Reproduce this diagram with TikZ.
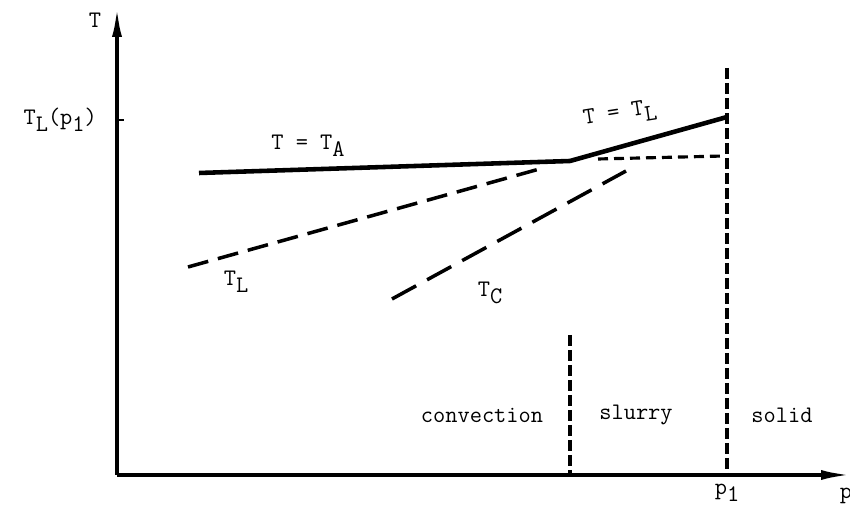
\documentclass[tikz,border=0pt]{standalone}
\usepackage{fontspec}
\usetikzlibrary{arrows.meta}

\newcommand{\lowsub}[1]{\raisebox{-0.7ex}{#1}}

\tikzset{
  axis/.style={line width=2pt, -{Latex[length=0.6cm, width=0.2cm]}},
  curve/.style={line width=2.6pt},
  dashcurve/.style={line width=2pt, dash pattern=on 0.42cm off 0.2cm},
  longdash/.style={line width=2pt, dash pattern=on 0.55cm off 0.25cm},
  shortdash/.style={line width=1.8pt, dash pattern=on 0.2cm off 0.12cm},
  border/.style={line width=2pt, dash pattern=on 0.22cm off 0.08cm},
  lab/.style={font=\ttfamily\fontsize{13.5}{15}\selectfont, inner sep=1pt}
}

\begin{document}
\begin{tikzpicture}
    \useasboundingbox (0,0) rectangle (17,10.2);

    % axes
    \coordinate (O) at (2.34,0.7);
    \coordinate (ytop) at (2.34,10.06);
    \coordinate (xend) at (17.02,0.7);
    \draw[axis] (O) -- (ytop);
    \draw[axis] (O) -- (xend);
    \node[lab] (tlab) at (1.9,9.8) {T};
    \node[lab] (plab) at (16.92,0.28) {p};

    % tick at T_L(p_1)
    \coordinate (tick) at (2.34,7.8);
    \draw[line width=1.4pt] (tick) -- ++(0.13,0);
    \node[lab, anchor=east] (tlp) at (1.98,7.8) {T\lowsub{L}(p\lowsub{1})};

    % key points
    \coordinate (a0) at (3.98,6.74);
    \coordinate (kink) at (11.4,6.98);
    \coordinate (top) at (14.54,7.86);

    % T = T_A and T = T_L
    \draw[curve, line join=round] (a0) -- (kink) -- (top);
    \node[lab] (tanote) at (6.16,7.28) {T = T\lowsub{A}};
    \node[lab, rotate=9] (tlnote) at (12.4,7.9) {T = T\lowsub{L}};

    % dashed horizontal to p_1
    \coordinate (h0) at (11.96,7.02);
    \coordinate (h1) at (14.48,7.08);
    \draw[shortdash] (h0) -- (h1);

    % T_L and T_C
    \coordinate (l0) at (3.76,4.86);
    \coordinate (l1) at (10.86,6.84);
    \draw[dashcurve] (l0) -- (l1);
    \node[lab] (tl) at (4.72,4.56) {T\lowsub{L}};
    \coordinate (c0) at (7.84,4.22);
    \coordinate (c1) at (12.52,6.78);
    \draw[longdash] (c0) -- (c1);
    \node[lab] (tc) at (9.8,4.34) {T\lowsub{C}};

    % region borders
    \coordinate (b1) at (11.4,3.5);
    \coordinate (b1x) at (11.4,0.7);
    \coordinate (b2) at (14.54,8.84);
    \coordinate (b2x) at (14.54,0.7);
    \draw[border] (b1) -- (b1x);
    \draw[border] (b2) -- (b2x);
    \node[lab] (p1) at (14.54,0.34) {p\lowsub{1}};

    % regions
    \node[lab] (conv) at (9.64,1.9) {convection};
    \node[lab] (slurry) at (12.72,1.9) {slurry};
    \node[lab] (solid) at (15.64,1.9) {solid};
\end{tikzpicture}
\end{document}
